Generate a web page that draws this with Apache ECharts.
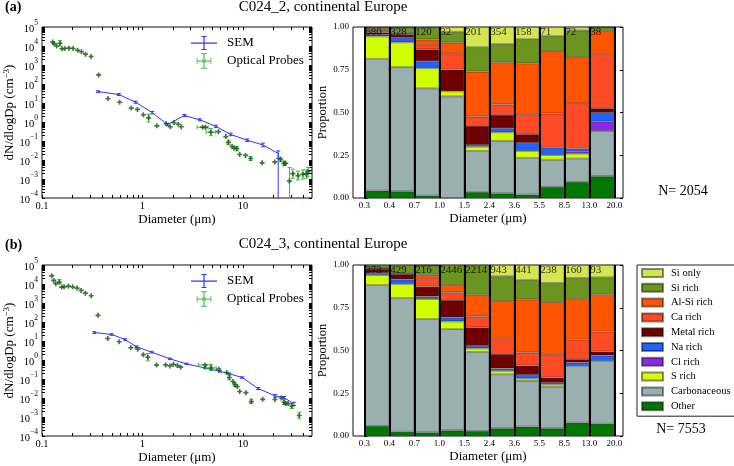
<!DOCTYPE html>
<html>
<head>
<meta charset="utf-8">
<title>C024 size distribution and composition</title>
<script src="https://cdn.jsdelivr.net/npm/echarts@6.0.0/dist/echarts.min.js"></script>
<style>
  body { margin: 0; background: #fff; }
  #chart { width: 734px; height: 466px; }
</style>
</head>
<body>
<div id="chart"></div>
<script>
var FONT = 'Liberation Serif'

// bin edges (um) of the composition bars, labels sit on the edges
var binEdges = ['0.3', '0.4', '0.7', '1.0', '1.5', '2.4', '3.6', '5.5', '8.5', '13.0', '20.0']

// number of analysed particles per bin
var countsA = [680, 328, 120, 32, 201, 354, 158, 71, 72, 38]
var countsB = [373, 429, 216, 2446, 2214, 943, 441, 238, 160, 93]

// C024_2 proportions, bottom class first
var otherA   = [0.043, 0.039, 0.014, 0,     0.035, 0.027, 0.020, 0.065, 0.094, 0.127]
var carbA    = [0.771, 0.726, 0.627, 0.594, 0.240, 0.308, 0.215, 0.159, 0.137, 0.265]
var sRichA   = [0.131, 0.145, 0.118, 0.030, 0.025, 0.049, 0.040, 0.027, 0.028, 0]
var clRichA  = [0,     0,     0,     0,     0,     0,     0,     0,     0.014, 0.055]
var naRichA  = [0.010, 0.027, 0.041, 0,     0.010, 0.024, 0.047, 0.043, 0.015, 0.051]
var metalA   = [0.013, 0.018, 0.069, 0.127, 0.112, 0.078, 0.051, 0,     0,     0.027]
var caRichA  = [0.007, 0.005, 0.025, 0.096, 0.054, 0.061, 0.117, 0.200, 0.267, 0.318]
var alSiA    = [0.007, 0.005, 0.033, 0.061, 0.263, 0.247, 0.298, 0.365, 0.269, 0.133]
var siRichA  = [0.013, 0.030, 0.067, 0.063, 0.143, 0.106, 0.141, 0.088, 0.156, 0.022]
var siOnlyA  = [0.005, 0.005, 0.006, 0.029, 0.118, 0.100, 0.071, 0.053, 0.020, 0.002]

// C024_3 proportions
var otherB   = [0.059, 0.025, 0.021, 0.033, 0.029, 0.045, 0.055, 0.045, 0.078, 0.072]
var carbB    = [0.824, 0.782, 0.663, 0.592, 0.463, 0.316, 0.267, 0.242, 0.332, 0.367]
var sRichB   = [0.058, 0.082, 0.117, 0.045, 0.020, 0.020, 0.014, 0.014, 0,     0]
var clRichB  = [0,     0,     0.005, 0,     0,     0,     0,     0,     0,     0]
var naRichB  = [0.012, 0.027, 0.010, 0.023, 0.015, 0.014, 0.021, 0.010, 0.020, 0.032]
var metalB   = [0.024, 0.031, 0.057, 0.102, 0.108, 0.084, 0.055, 0.031, 0.019, 0.023]
var caRichB  = [0.004, 0.006, 0.051, 0.045, 0.064, 0.087, 0.076, 0.133, 0.114, 0.117]
var alSiB    = [0.003, 0,     0.019, 0.043, 0.127, 0.223, 0.311, 0.308, 0.238, 0.215]
var siRichB  = [0.016, 0.047, 0.053, 0.117, 0.174, 0.145, 0.113, 0.112, 0.123, 0.102]
var siOnlyB  = [0,     0,     0.004, 0,     0,     0.066, 0.088, 0.105, 0.076, 0.072]

var classNames = ['Other', 'Carbonaceous', 'S rich', 'Cl rich', 'Na rich', 'Metal rich', 'Ca rich', 'Al-Si rich', 'Si rich', 'Si only']
var classColors = ['#007800', '#9aafb0', '#d2ff00', '#8a2be2', '#1f62ff', '#6e0000', '#ff4a26', '#ff5400', '#6b951f', '#d4e550']

// size distributions: [diameter um, dN/dlogDp cm-3]
var semA = [[0.361, 40], [0.582, 28], [0.853, 11], [1.25, 3.1], [1.78, 0.74], [2.61, 2.2], [3.72, 1.3],
  [5.37, 0.59], [7.55, 0.22], [11.0, 0.11], [15.8, 0.062], [22.4, 0.022], [22.4, 0]]
var semErrA = [[36, 44], [25, 31], [9.8, 12.4], [2.7, 3.6], [0.64, 0.86], [1.95, 2.5], [1.15, 1.47],
  [0.52, 0.67], [0.19, 0.26], [0.095, 0.128], [0.05, 0.077], [0.012, 0.03]]
var opticalA = [[0.1277, 1.6e4], [0.1324, 1.3e4], [0.140, 1.0e4], [0.151, 1.4e4], [0.158, 7.2e3], [0.168, 7.4e3],
  [0.185, 7.7e3], [0.204, 7.4e3], [0.226, 6.0e3], [0.247, 5.0e3], [0.271, 3.7e3], [0.308, 2.8e3],
  [0.366, 300], [0.454, 17], [0.592, 11], [0.773, 5.4], [0.891, 4.6], [1.02, 2.4], [1.15, 1.65],
  [1.39, 0.63], [1.72, 0.81], [1.89, 0.56], [2.06, 0.93], [2.27, 0.76], [2.43, 0.56], [3.96, 0.53],
  [4.23, 0.52], [4.79, 0.29], [5.69, 0.31], [6.74, 0.17], [7.16, 0.085], [7.78, 0.052], [8.15, 0.043],
  [8.67, 0.040], [9.27, 0.0195], [10.6, 0.0174], [11.9, 0.012], [15.5, 0.0071], [20.7, 0.0079],
  [23.6, 0.0107], [25.6, 0.0066], [26.6, 0.0066], [29.0, 0.00078], [31.3, 0.0019], [35.3, 0.0015],
  [39.5, 0.0018], [42.7, 0.0018], [44.4, 0.0024]]
// [d, v, dlo, dhi, vlo, vhi]
var opticalErrA = [[0.151, 1.4e4, 0.151, 0.151, 1.0e4, 1.9e4], [1.15, 1.65, 1.15, 1.15, 1.0, 2.6],
  [3.96, 0.53, 3.5, 4.5, 0.53, 0.53], [4.79, 0.29, 4.3, 5.3, 0.19, 0.45], [7.16, 0.085, 7.16, 7.16, 0.065, 0.11],
  [8.67, 0.040, 8.67, 8.67, 0.03, 0.052], [11.9, 0.012, 11.9, 11.9, 0.0095, 0.015],
  [23.6, 0.0107, 23.6, 23.6, 0.008, 0.014], [25.6, 0.0066, 25.6, 25.6, 0.005, 0.009],
  [29.0, 0.00078, 29.0, 29.0, 0.0001, 0.004], [31.3, 0.0019, 31.3, 31.3, 0.0011, 0.0033],
  [35.3, 0.0015, 35.3, 35.3, 0.0009, 0.0026], [39.5, 0.0018, 39.5, 39.5, 0.001, 0.003],
  [42.7, 0.0018, 42.7, 42.7, 0.0011, 0.003], [44.4, 0.0024, 44.4, 44.4, 0.0013, 0.004]]

var semB = [[0.331, 28], [0.493, 22], [0.67, 12], [0.87, 5.0], [1.23, 2.6], [1.88, 1.15], [2.75, 0.62],
  [4.19, 0.38], [5.9, 0.25], [7.3, 0.19], [9.8, 0.12], [14.1, 0.032], [20.8, 0.013], [25.6, 0.0105], [32.1, 0.0049]]
var semErrB = [[25, 31], [20, 24], [10.8, 13.2], [4.5, 5.5], [2.35, 2.85], [1.05, 1.26], [0.57, 0.68],
  [0.35, 0.42], [0.23, 0.27], [0.175, 0.205], [0.11, 0.13], [0.028, 0.036], [0.011, 0.015], [0.009, 0.012], [0.004, 0.006]]
var opticalB = [[0.1249, 2.7e4], [0.1306, 1.55e4], [0.137, 1.03e4], [0.1486, 1.26e4], [0.157, 6.9e3], [0.166, 7.1e3],
  [0.183, 7.8e3], [0.202, 7.1e3], [0.223, 6.1e3], [0.245, 4.6e3], [0.270, 3.3e3], [0.309, 2.4e3],
  [0.361, 224], [0.451, 13.5], [0.587, 9.1], [0.764, 4.4], [0.895, 3.7], [1.02, 1.9], [1.13, 1.4],
  [1.38, 0.54], [1.70, 0.55], [1.88, 0.49], [2.03, 0.6], [2.22, 0.51], [2.40, 0.42], [4.19, 0.55],
  [4.81, 0.38], [5.73, 0.33], [6.88, 0.22], [7.31, 0.12], [7.94, 0.074], [8.31, 0.051], [8.77, 0.040],
  [9.27, 0.022], [10.7, 0.019], [12.1, 0.0065], [15.7, 0.0085], [20.8, 0.0083], [24.0, 0.010],
  [25.6, 0.006], [26.6, 0.0051], [28.1, 0.0051], [30.6, 0.0038], [36.3, 0.0012]]
var opticalErrB = [[0.1486, 1.26e4, 0.1486, 0.1486, 1.0e4, 1.7e4], [1.13, 1.4, 1.13, 1.13, 0.9, 2.2],
  [4.19, 0.55, 3.6, 4.8, 0.55, 0.55], [4.81, 0.38, 4.3, 5.4, 0.28, 0.55], [7.31, 0.12, 7.31, 7.31, 0.09, 0.16],
  [8.31, 0.051, 8.31, 8.31, 0.04, 0.065], [12.1, 0.0065, 12.1, 12.1, 0.005, 0.0088],
  [25.6, 0.006, 25.6, 25.6, 0.0045, 0.0085], [30.6, 0.0038, 30.6, 30.6, 0.0028, 0.0052],
  [36.3, 0.0012, 36.3, 36.3, 0.0008, 0.0018]]

var xTicksLog = [0.1, 1, 10]
var yTicksLog = [1e-4, 1e-3, 1e-2, 1e-1, 1, 1e1, 1e2, 1e3, 1e4, 1e5]

// tick marks for log axes (majors + 2..9 minors)
function logMarks (lo, hi) {
  var out = []
  for (var e = lo; e <= hi; e++) {
    for (var m = 1; m < 10; m++) out.push(m * Math.pow(10, e))
  }
  return out
}
var xMarks = logMarks(-1, 1).concat([20, 30, 40])
var yMarks = logMarks(-4, 4).concat([1e5])

var sum = function (a) { return a.reduce(function (s, v) { return s + v }, 0) }
var supTxt = function (e) { return e < 0 ? '\u2212' + (-e) : String(e) }

var fracA = [otherA, carbA, sRichA, clRichA, naRichA, metalA, caRichA, alSiA, siRichA, siOnlyA]
var fracB = [otherB, carbB, sRichB, clRichB, naRichB, metalB, caRichB, alSiB, siRichB, siOnlyB]

var tickStyle = { inside: true, length: 3, lineStyle: { color: '#000', width: 1 } }
var gridBase = { show: true, borderColor: '#111', borderWidth: 1, backgroundColor: '#fff', outerBoundsMode: 'none' }

function logX (gi, pos, labels) {
  return {
    type: 'log', logBase: 10, gridIndex: gi, position: pos, min: 0.1, max: 48.6,
    axisLine: { show: false }, splitLine: { show: false },
    axisTick: Object.assign({ customValues: xMarks }, tickStyle),
    axisLabel: labels ? {
      customValues: xTicksLog, margin: 3, color: '#000', fontFamily: FONT, fontSize: 10.5,
      formatter: function (v) { return v < 1 ? String(v) : String(Math.round(v)) }
    } : { show: false },
    name: labels ? 'Diameter (\u03bcm)' : '', nameLocation: 'middle', nameGap: 15,
    nameTextStyle: { color: '#000', fontFamily: FONT, fontSize: 13 }
  }
}

function logY (gi, pos, labels) {
  return {
    type: 'log', logBase: 10, gridIndex: gi, position: pos, min: 1e-4, max: 1e5,
    axisLine: { show: false }, splitLine: { show: false },
    axisTick: Object.assign({ customValues: yMarks }, tickStyle),
    axisLabel: labels ? {
      customValues: yTicksLog, margin: 4, color: '#000', hideOverlap: false,
      formatter: function (v) { return '{b|10}{s|' + supTxt(Math.round(Math.log10(v))) + '}' },
      rich: {
        b: { fontFamily: FONT, fontSize: 10.5, color: '#000', padding: [4, 0, 0, 0], verticalAlign: 'bottom' },
        s: { fontFamily: FONT, fontSize: 7.5, color: '#000', verticalAlign: 'top' }
      }
    } : { show: false },
    name: labels ? 'dN/dlogDp (cm{s|\u22123})' : '', nameLocation: 'middle', nameRotate: 90, nameGap: 25,
    nameTextStyle: {
      color: '#000', fontFamily: FONT, fontSize: 13,
      rich: { s: { fontFamily: FONT, fontSize: 9, color: '#000', verticalAlign: 'top', padding: [0, 0, 5, 0] } }
    }
  }
}

function barX (gi) {
  return {
    type: 'value', gridIndex: gi, min: -0.45, max: 10.35,
    axisLine: { show: false }, splitLine: { show: false },
    axisTick: Object.assign({ customValues: binEdges.map(function (e, i) { return i }) }, tickStyle),
    axisLabel: {
      customValues: binEdges.map(function (e, i) { return i }), margin: 3, color: '#000', fontFamily: FONT, fontSize: 9,
      formatter: function (v) { return binEdges[Math.round(v)] }
    },
    name: 'Diameter (\u03bcm)', nameLocation: 'middle', nameGap: 14,
    nameTextStyle: { color: '#000', fontFamily: FONT, fontSize: 13 }
  }
}

function barY (gi, pos, labels) {
  return {
    type: 'value', gridIndex: gi, position: pos, min: 0, max: 1, interval: 0.25,
    axisLine: { show: false }, splitLine: { show: false },
    axisTick: tickStyle,
    axisLabel: labels ? {
      margin: 4, color: '#000', fontFamily: FONT, fontSize: 9,
      formatter: function (v) { return v.toFixed(2) }
    } : { show: false },
    name: labels ? 'Proportion' : '', nameLocation: 'middle', nameRotate: 90, nameGap: 22,
    nameTextStyle: { color: '#000', fontFamily: FONT, fontSize: 12.5 }
  }
}

function errorBars (params, api) {
  var x = api.value(0)
  var y = api.value(1)
  var st = { stroke: api.visual('color'), lineWidth: 1 }
  var parts = []
  var seg = function (p, q) { parts.push({ type: 'line', shape: { x1: p[0], y1: p[1], x2: q[0], y2: q[1] }, style: st }) }
  var ylo = api.value(4)
  var yhi = api.value(5)
  if (ylo !== yhi) {
    var a = api.coord([x, ylo])
    var b = api.coord([x, yhi])
    seg(a, b)
    seg([a[0] - 2, a[1]], [a[0] + 2, a[1]])
    seg([b[0] - 2, b[1]], [b[0] + 2, b[1]])
  }
  var xlo = api.value(2)
  var xhi = api.value(3)
  if (xlo !== xhi) {
    var l = api.coord([xlo, y])
    var r = api.coord([xhi, y])
    seg(l, r)
    seg([l[0], l[1] - 2], [l[0], l[1] + 2])
    seg([r[0], r[1] - 2], [r[0], r[1] + 2])
  }
  return { type: 'group', children: parts }
}

var plusSymbol = 'path://M2,0h2v2h2v2h-2v2h-2v-2h-2v-2h2z'

function sizeSeries (sem, semErr, optical, opticalErr, xi, yi) {
  // zero counts are pushed far below the axis, like a clipped log plot
  var semLine = sem.map(function (p) { return [p[0], p[1] > 0 ? p[1] : 1e-9] })
  var semRows = semErr.map(function (e, i) { return [sem[i][0], sem[i][1], sem[i][0], sem[i][0], e[0], e[1]] })
  return [
    { name: 'SEM', type: 'line', xAxisIndex: xi, yAxisIndex: yi, data: semLine, showSymbol: false,
      clip: true, lineStyle: { color: '#3434ff', width: 1 }, itemStyle: { color: '#3434ff' }, z: 2 },
    { type: 'custom', xAxisIndex: xi, yAxisIndex: yi, data: semRows, renderItem: errorBars,
      itemStyle: { color: '#3434ff' }, silent: true, z: 2 },
    { type: 'custom', xAxisIndex: xi, yAxisIndex: yi, data: opticalErr, renderItem: errorBars,
      itemStyle: { color: '#3fb83f' }, silent: true, z: 3 },
    { name: 'Optical Probes', type: 'scatter', xAxisIndex: xi, yAxisIndex: yi, data: optical,
      symbol: plusSymbol, symbolSize: 5, itemStyle: { color: '#0b560b' }, z: 4 }
  ]
}

function barSeries (frac, counts, xi, yi) {
  var out = frac.map(function (vals, k) {
    // value first so the stack runs on the proportion, bin centre second
    return {
      name: classNames[k], type: 'bar', stack: 'prop' + xi, xAxisIndex: xi, yAxisIndex: yi,
      barWidth: '100%', encode: { x: 1, y: 0 },
      itemStyle: { color: classColors[k], borderColor: 'rgba(0,0,0,0.45)', borderWidth: 0.8 },
      data: vals.map(function (v, i) { return [v > 0 ? v : null, i + 0.5] })
    }
  })
  out.push({
    type: 'scatter', xAxisIndex: xi, yAxisIndex: yi, silent: true, symbolSize: 1, clip: false, z: 10,
    itemStyle: { color: 'rgba(0,0,0,0)' },
    data: counts.map(function (c, i) { return [i, 1, c] }),
    label: {
      show: true, position: [1.5, 0], align: 'left', verticalAlign: 'top',
      color: '#000', fontFamily: FONT, fontSize: 11,
      formatter: function (p) { return String(p.value[2]) }
    },
    // black separators on the bin edges
    markLine: {
      silent: true, symbol: 'none', label: { show: false },
      lineStyle: { color: '#000', width: 2, type: 'solid' },
      data: binEdges.map(function (e, i) { return { xAxis: i } })
    }
  })
  return out
}

var semIcon = 'path://M0,7.5h26v1.2h-26z M12.4,1h1.2v14h-1.2z M10.5,1h5v1h-5z M10.5,14h5v1h-5z'
var optIcon = 'path://M7,7.5h12v1.2h-12z M12.4,1h1.2v14h-1.2z M10.5,1h5v1h-5z M10.5,14h5v1h-5z M6.5,5.5h1v5h-1z M18.5,5.5h1v5h-1z M11.5,6.5h3v3h-3z'

function sizeLegend (top) {
  return {
    orient: 'vertical', left: 191, top: top, padding: 0, itemWidth: 26, itemHeight: 16, itemGap: 2,
    selectedMode: false,
    textStyle: { color: '#000', fontFamily: FONT, fontSize: 13, lineHeight: 16, padding: [0, 0, 0, 5] },
    data: [
      { name: 'SEM', icon: semIcon, itemStyle: { color: '#3434ff', borderWidth: 0 } },
      { name: 'Optical Probes', icon: optIcon, itemStyle: { color: '#3fb83f', borderWidth: 0 } }
    ]
  }
}

var option = {
  animation: false,
  backgroundColor: '#fff',
  textStyle: { fontFamily: FONT },
  title: [
    { text: '(a)', left: 5, top: 0, padding: 0, textStyle: { fontFamily: FONT, fontSize: 14, fontWeight: 'bold', color: '#000' } },
    { text: 'C024_2, continental Europe', left: 323, top: 0, padding: 0, textAlign: 'center',
      textStyle: { fontFamily: FONT, fontSize: 15, fontWeight: 'normal', color: '#000' } },
    { text: 'N= ' + sum(countsA), left: 683, top: 184, padding: 0, textAlign: 'center',
      textStyle: { fontFamily: FONT, fontSize: 14, fontWeight: 'normal', color: '#000' } },
    { text: '(b)', left: 5, top: 238, padding: 0, textStyle: { fontFamily: FONT, fontSize: 14, fontWeight: 'bold', color: '#000' } },
    { text: 'C024_3, continental Europe', left: 323, top: 237, padding: 0, textAlign: 'center',
      textStyle: { fontFamily: FONT, fontSize: 15, fontWeight: 'normal', color: '#000' } },
    { text: 'N= ' + sum(countsB), left: 681, top: 422, padding: 0, textAlign: 'center',
      textStyle: { fontFamily: FONT, fontSize: 14, fontWeight: 'normal', color: '#000' } }
  ],
  grid: [
    Object.assign({ left: 42, top: 27, width: 270, height: 171 }, gridBase),
    Object.assign({ left: 353, top: 27, width: 270, height: 171 }, gridBase),
    Object.assign({ left: 42, top: 265, width: 270, height: 171 }, gridBase),
    Object.assign({ left: 353, top: 265, width: 270, height: 171 }, gridBase)
  ],
  xAxis: [logX(0, 'bottom', true), logX(0, 'top', false), barX(1),
    logX(2, 'bottom', true), logX(2, 'top', false), barX(3)],
  yAxis: [logY(0, 'left', true), logY(0, 'right', false), barY(1, 'left', true), barY(1, 'right', false),
    logY(2, 'left', true), logY(2, 'right', false), barY(3, 'left', true), barY(3, 'right', false)],
  legend: [
    sizeLegend(35),
    sizeLegend(273),
    {
      orient: 'vertical', left: 637, top: 265, padding: [2, 5, 4, 4], itemWidth: 21, itemHeight: 8, itemGap: 2.8,
      selectedMode: false, icon: 'rect', backgroundColor: '#fff', borderColor: '#222', borderWidth: 1,
      textStyle: { color: '#000', fontFamily: FONT, fontSize: 10.5, lineHeight: 12, padding: [0, 0, 0, 3] },
      data: classNames.slice().reverse()
    }
  ],
  series: [].concat(
    sizeSeries(semA, semErrA, opticalA, opticalErrA, 0, 0),
    barSeries(fracA, countsA, 2, 2),
    sizeSeries(semB, semErrB, opticalB, opticalErrB, 3, 4),
    barSeries(fracB, countsB, 5, 6)
  )
}

var chart = echarts.init(document.getElementById('chart'), null, { renderer: 'canvas' })
chart.setOption(option)
</script>
</body>
</html>
